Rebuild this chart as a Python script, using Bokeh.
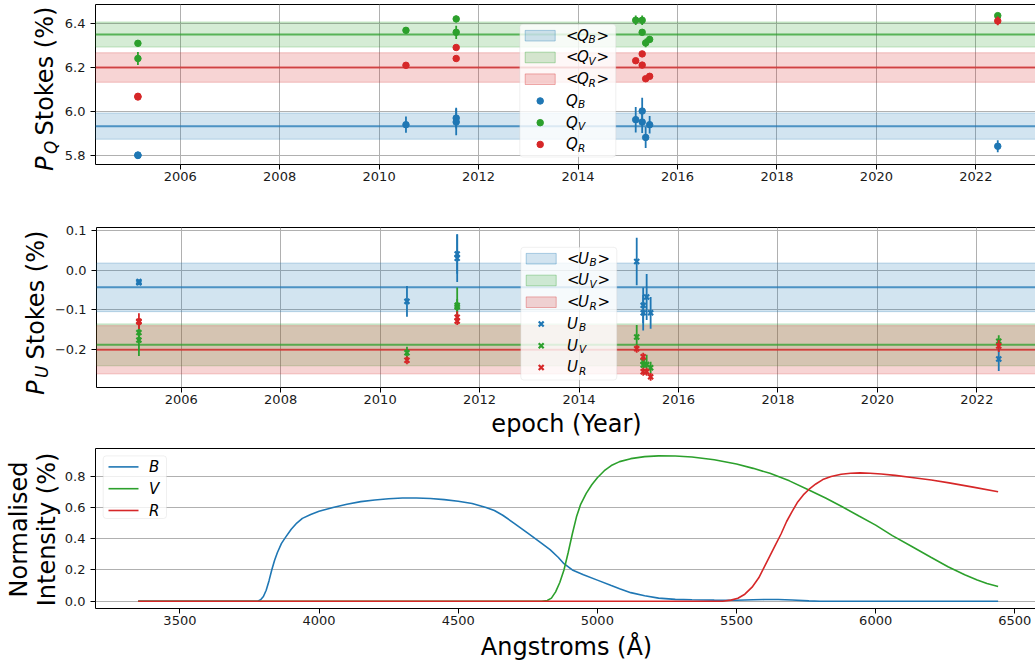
import math
from bokeh.plotting import figure
from bokeh.layouts import column, row
from bokeh.models import (BoxAnnotation, Span, Label, FixedTicker,
                          CustomJSTickFormatter, Range1d, ColumnDataSource)
from bokeh.embed import file_html
from bokeh.resources import INLINE

FONT = "DejaVu Sans"
BLUE, GREEN, RED = "#1f77b4", "#2ca02c", "#d62728"

# ---------------- data ----------------
epochs = [2005.15, 2005.15, 2010.54, 2011.55, 2011.55, 2015.16,
          2015.29, 2015.29, 2015.36, 2015.44, 2022.44]

q_b = [5.802, 5.800, 5.940, 5.970, 5.952, 5.963, 6.002, 5.952, 5.882, 5.940, 5.842]
q_b_err = [0.006, 0.006, 0.037, 0.047, 0.060, 0.058, 0.060, 0.050, 0.048, 0.040, 0.027]
q_v = [6.310, 6.241, 6.369, 6.421, 6.360, 6.415, 6.415, 6.360, 6.312, 6.328, 6.436]
q_v_err = [0.010, 0.030, 0.012, 0.015, 0.030, 0.022, 0.022, 0.012, 0.020, 0.015, 0.012]
q_r = [6.069, 6.066, 6.210, 6.291, 6.241, 6.231, 6.262, 6.211, 6.149, 6.160, 6.412]
q_r_err = [0.012, 0.008, 0.008, 0.008, 0.008, 0.008, 0.008, 0.008, 0.008, 0.008, 0.020]

u_b = [-0.029, -0.032, -0.079, 0.041, 0.030, 0.022, -0.089, -0.108, -0.068, -0.108, -0.225]
u_b_err = [0.006, 0.006, 0.039, 0.050, 0.060, 0.060, 0.045, 0.045, 0.058, 0.040, 0.030]
u_v = [-0.158, -0.177, -0.209, -0.089, -0.093, -0.169, -0.230, -0.240, -0.239, -0.247, -0.180]
u_v_err = [0.020, 0.040, 0.015, 0.045, 0.020, 0.030, 0.015, 0.015, 0.025, 0.015, 0.015]
u_r = [-0.129, -0.131, -0.228, -0.119, -0.129, -0.199, -0.219, -0.257, -0.257, -0.270, -0.192]
u_r_err = [0.020, 0.010, 0.010, 0.015, 0.010, 0.010, 0.010, 0.010, 0.010, 0.010, 0.015]

bands = ["B", "V", "R"]
colors = [BLUE, GREEN, RED]
q_mean = [5.9335, 6.350, 6.200]
q_std = [0.0595, 0.057, 0.067]
u_mean = [-0.0435, -0.189, -0.2015]
u_std = [0.0615, 0.053, 0.061]

wl_b = [3350, 3780, 3790, 3800, 3810, 3820, 3830, 3840, 3850, 3865, 3880, 3900,
        3920, 3940, 3970, 4000, 4050, 4100, 4150, 4200, 4250, 4300, 4350, 4400,
        4450, 4500, 4550, 4600, 4630, 4660, 4700, 4750, 4800, 4830, 4860, 4880,
        4910, 4950, 5000, 5050, 5080, 5120, 5170, 5220, 5280, 5340, 5420, 5500,
        5560, 5600, 5650, 5700, 5760, 5800, 6440]
tr_b = [0.0, 0.0, 0.01, 0.03, 0.07, 0.13, 0.20, 0.26, 0.31, 0.37, 0.41, 0.46,
        0.50, 0.53, 0.555, 0.575, 0.60, 0.62, 0.637, 0.648, 0.656, 0.660, 0.660, 0.657,
        0.650, 0.640, 0.625, 0.600, 0.580, 0.550, 0.500, 0.435, 0.370, 0.330, 0.280, 0.240,
        0.200, 0.170, 0.135, 0.100, 0.080, 0.055, 0.035, 0.020, 0.012, 0.009, 0.007, 0.006,
        0.009, 0.011, 0.011, 0.008, 0.002, 0.0, 0.0]
wl_v = [3350, 4800, 4820, 4835, 4850, 4865, 4880, 4895, 4910, 4925, 4940, 4960,
        4980, 5000, 5025, 5050, 5080, 5120, 5170, 5220, 5280, 5340, 5420, 5500,
        5560, 5620, 5690, 5760, 5820, 5880, 5940, 6000, 6060, 6130, 6200, 6260,
        6320, 6365, 6400, 6440]
tr_v = [0.0, 0.0, 0.005, 0.02, 0.06, 0.12, 0.20, 0.31, 0.43, 0.54, 0.62, 0.69,
        0.745, 0.79, 0.835, 0.868, 0.893, 0.912, 0.925, 0.930, 0.929, 0.923, 0.905, 0.878,
        0.850, 0.818, 0.770, 0.711, 0.660, 0.604, 0.545, 0.487, 0.420, 0.350, 0.280, 0.221,
        0.170, 0.136, 0.113, 0.094]
wl_r = [3350, 5450, 5480, 5505, 5530, 5556, 5580, 5600, 5620, 5640, 5660, 5680,
        5700, 5720, 5740, 5760, 5785, 5810, 5840, 5876, 5910, 5944, 5980, 6020,
        6070, 6130, 6200, 6264, 6350, 6440]
tr_r = [0.0, 0.0, 0.007, 0.019, 0.045, 0.09, 0.15, 0.22, 0.29, 0.36, 0.43, 0.51,
        0.575, 0.635, 0.68, 0.715, 0.75, 0.778, 0.798, 0.812, 0.819, 0.821, 0.819, 0.814,
        0.805, 0.791, 0.775, 0.757, 0.730, 0.700]

year_ticks = [2006, 2008, 2010, 2012, 2014, 2016, 2018, 2020, 2022]
q_ticks = [5.8, 6.0, 6.2, 6.4]
u_ticks = [-0.2, -0.1, 0.0, 0.1]
wl_ticks = [3500, 4000, 4500, 5000, 5500, 6000, 6500]
int_ticks = [0.0, 0.2, 0.4, 0.6, 0.8]

# ---------------- layout (page pixels; the page has no margin) ----------------
FRAME_L = 93
FRAME_W = 941
FRAME_H = 160
RIGHT = FRAME_L + FRAME_W  # 1034

fmt1 = CustomJSTickFormatter(code="""
const s = Math.abs(tick).toFixed(1);
return (tick < -1e-9 ? '\u2212' : '') + s;""")


def make_fig(xr, yr, left_border, top_border, bottom_border):
    p = figure(frame_width=FRAME_W, frame_height=FRAME_H,
               min_border_left=left_border, min_border_right=0,
               min_border_top=top_border, min_border_bottom=bottom_border,
               x_range=Range1d(*xr), y_range=Range1d(*yr),
               output_backend="svg", toolbar_location=None, title=None)
    p.outline_line_color = "black"
    p.outline_line_width = 1
    p.outline_line_alpha = 1
    for ax in (p.xaxis[0], p.yaxis[0]):
        ax.axis_line_color = None
        ax.major_tick_line_color = "black"
        ax.major_tick_out = 5
        ax.major_tick_in = 0
        ax.minor_tick_line_color = None
        ax.major_label_text_font = FONT
        ax.major_label_text_font_size = "13px"
        ax.major_label_text_color = "#1a1a1a"
    p.xaxis[0].major_label_standoff = 2
    p.yaxis[0].major_label_standoff = 5
    p.grid.grid_line_color = "#b0b0b0"
    p.grid.grid_line_width = 1
    return p


def strip(x0, x1, y0, y1):
    """Empty figure whose data coordinates are page pixels (for axis titles)."""
    s = figure(frame_width=x1 - x0, frame_height=y1 - y0,
               min_border_left=0, min_border_right=0, min_border_top=0,
               min_border_bottom=0, x_range=Range1d(x0, x1),
               y_range=Range1d(y1, y0), x_axis_location=None,
               y_axis_location=None, output_backend="svg",
               toolbar_location=None, title=None)
    s.outline_line_color = None
    s.grid.visible = False
    return s


def convs(xr, yr, top):
    def fx(px):
        return xr[0] + (px - FRAME_L) / FRAME_W * (xr[1] - xr[0])

    def fy(py):
        return yr[1] - (py - top) / FRAME_H * (yr[1] - yr[0])
    return fx, fy


def add_text(p, x, y, text, size, style="normal", align="left",
             baseline="middle", angle=0.0):
    p.add_layout(Label(x=x, y=y, text=text, text_font=FONT,
                       text_font_size=f"{size}px", text_font_style=style,
                       text_align=align, text_baseline=baseline,
                       text_color="black", angle=angle, level="overlay"))


def math_label(p, fx, fy, yc, letter, sub, brackets):
    if brackets:
        add_text(p, fx(563.5), fy(yc), "<", 15)
        add_text(p, fx(574.5), fy(yc), letter, 15, "italic")
        add_text(p, fx(586.0), fy(yc + 3.5), sub, 10.5, "italic")
        add_text(p, fx(594.0), fy(yc), ">", 15)
    else:
        add_text(p, fx(563.5), fy(yc), letter, 15, "italic")
        add_text(p, fx(575.5), fy(yc + 3.5), sub, 10.5, "italic")


def stokes_panel(p, fx, fy, top, letter, vals, errs, means, stds, marker):
    for m, s, c in zip(means, stds, colors):
        p.add_layout(BoxAnnotation(bottom=m - s, top=m + s, fill_color=c,
                                   fill_alpha=0.2, line_color=c, line_alpha=0.25,
                                   line_width=1, level="underlay"))
    for m, c in zip(means, colors):
        p.add_layout(Span(location=m, dimension="width", line_color=c,
                          line_width=2, line_alpha=0.75, level="underlay"))
    for v, e, c in zip(vals, errs, colors):
        src = ColumnDataSource(dict(x=epochs, y=v,
                                    lo=[a - b for a, b in zip(v, e)],
                                    hi=[a + b for a, b in zip(v, e)]))
        p.segment(x0="x", y0="lo", x1="x", y1="hi", source=src,
                  line_color=c, line_width=1.8)
        if marker == "circle":
            p.scatter(x="x", y="y", source=src, marker="circle", size=6.5,
                      fill_color=c, line_color=c)
        else:
            p.scatter(x="x", y="y", source=src, marker="x", size=7,
                      line_color=c, line_width=2.2)
    # legend
    p.add_layout(BoxAnnotation(left=fx(517.3), right=fx(613.3),
                               top=fy(top + 19.8), bottom=fy(top + 152.5),
                               fill_color="white", fill_alpha=0.8,
                               line_color="#cccccc", line_width=1,
                               border_radius=3, level="annotation"))
    for i, (b, c) in enumerate(zip(bands, colors)):
        yc = top + 31.2 + 21.75 * i
        p.add_layout(BoxAnnotation(left=fx(522.7), right=fx(552.7),
                                   top=fy(yc - 5.3), bottom=fy(yc + 5.3),
                                   fill_color=c, fill_alpha=0.2, line_color=c,
                                   line_alpha=0.35, level="overlay"))
        math_label(p, fx, fy, yc, letter, b, True)
    for i, (b, c) in enumerate(zip(bands, colors)):
        yc = top + 31.2 + 21.75 * (i + 3)
        if marker == "circle":
            p.scatter([fx(537.7)], [fy(yc)], marker="circle", size=6.5,
                      fill_color=c, line_color=c, level="overlay")
        else:
            p.scatter([fx(537.7)], [fy(yc)], marker="x", size=7,
                      line_color=c, line_width=2.2, level="overlay")
        math_label(p, fx, fy, yc, letter, b, False)


def stokes_ylabel(s, top, mid_x, sub_letter):
    # rotated texts; mid_x is the middle of the 24px line
    cy = top + FRAME_H / 2
    start = cy + 82.5
    add_text(s, mid_x, start, "P", 24, "italic", angle=math.pi / 2)
    add_text(s, mid_x + 6.5, start - 17, sub_letter, 16.8, "italic",
             angle=math.pi / 2)
    add_text(s, mid_x, start - 35.5, "Stokes (%)", 24, angle=math.pi / 2)


# ---------------- panel 1: Q ----------------
XR = (2004.297, 2004.297 + FRAME_W / 49.73)
YR1 = (5.759, 6.4866)
TOP1 = 4
H1 = 222
p1 = make_fig(XR, YR1, 32, TOP1, H1 - TOP1 - FRAME_H)
p1.xaxis[0].ticker = FixedTicker(ticks=year_ticks)
p1.yaxis[0].ticker = FixedTicker(ticks=q_ticks)
p1.yaxis[0].formatter = fmt1
fx1, fy1 = convs(XR, YR1, TOP1)
stokes_panel(p1, fx1, fy1, TOP1, "Q", [q_b, q_v, q_r],
             [q_b_err, q_v_err, q_r_err], q_mean, q_std, "circle")
s1 = strip(0, 61, 0, H1)
stokes_ylabel(s1, TOP1, 44.2, "Q")

# ---------------- panel 2: U ----------------
YR2 = (-0.297, 0.108)
Y2 = H1
TOP2 = Y2 + 5
H2 = 5 + FRAME_H + 23
p2 = make_fig(XR, YR2, 42, 5, 23)
p2.xaxis[0].ticker = FixedTicker(ticks=year_ticks)
p2.yaxis[0].ticker = FixedTicker(ticks=u_ticks)
p2.yaxis[0].formatter = fmt1
fx2, fy2 = convs(XR, YR2, TOP2)
stokes_panel(p2, fx2, fy2, TOP2, "U", [u_b, u_v, u_r],
             [u_b_err, u_v_err, u_r_err], u_mean, u_std, "x")
s2 = strip(0, 51, Y2, Y2 + H2)
stokes_ylabel(s2, TOP2, 35.2, "U")
X2 = Y2 + H2
x2 = strip(0, RIGHT, X2, X2 + 37)
add_text(x2, 566, TOP2 + FRAME_H + 36.5, "epoch (Year)", 24, align="center")

# ---------------- panel 3: filters ----------------
XR3 = (3196.7, 3196.7 + FRAME_W / 0.2783)
YR3 = (-0.0465, 0.977)
Y3 = X2 + 37
TOP3 = Y3 + 1
H3 = 1 + FRAME_H + 23
p3 = make_fig(XR3, YR3, 32, 1, 23)
p3.xgrid.grid_line_color = None
p3.xaxis[0].ticker = FixedTicker(ticks=wl_ticks)
p3.yaxis[0].ticker = FixedTicker(ticks=int_ticks)
p3.yaxis[0].formatter = fmt1
fx3, fy3 = convs(XR3, YR3, TOP3)
for wl, tr, c in zip([wl_b, wl_v, wl_r], [tr_b, tr_v, tr_r], colors):
    p3.line(wl, tr, line_color=c, line_width=1.6)

p3.add_layout(BoxAnnotation(left=fx3(100.7), right=fx3(164),
                            top=fy3(TOP3 + 7.4), bottom=fy3(TOP3 + 70),
                            fill_color="white", fill_alpha=0.8,
                            line_color="#cccccc", line_width=1,
                            border_radius=3, level="annotation"))
for i, (b, c) in enumerate(zip(bands, colors)):
    yc = TOP3 + 18.4 + 21.8 * i
    p3.line([fx3(106), fx3(136)], [fy3(yc), fy3(yc)], line_color=c,
            line_width=1.6, level="overlay")
    add_text(p3, fx3(146.5), fy3(yc), b, 15, "italic")

s3 = strip(0, 61, Y3, Y3 + H3)
cy3 = TOP3 + FRAME_H / 2
add_text(s3, 18.7, cy3, "Normalised", 24, align="center", angle=math.pi / 2)
add_text(s3, 46.7, cy3, "Intensity (%)", 24, align="center", angle=math.pi / 2)
X3 = Y3 + H3
x3 = strip(0, RIGHT, X3, X3 + 35)
add_text(x3, 566, TOP3 + FRAME_H + 38.2, "Angstroms (Å)", 24, align="center")

layout = column(row(s1, p1), row(s2, p2), x2, row(s3, p3), x3)
open("out.html", "w").write(file_html(layout, INLINE))
